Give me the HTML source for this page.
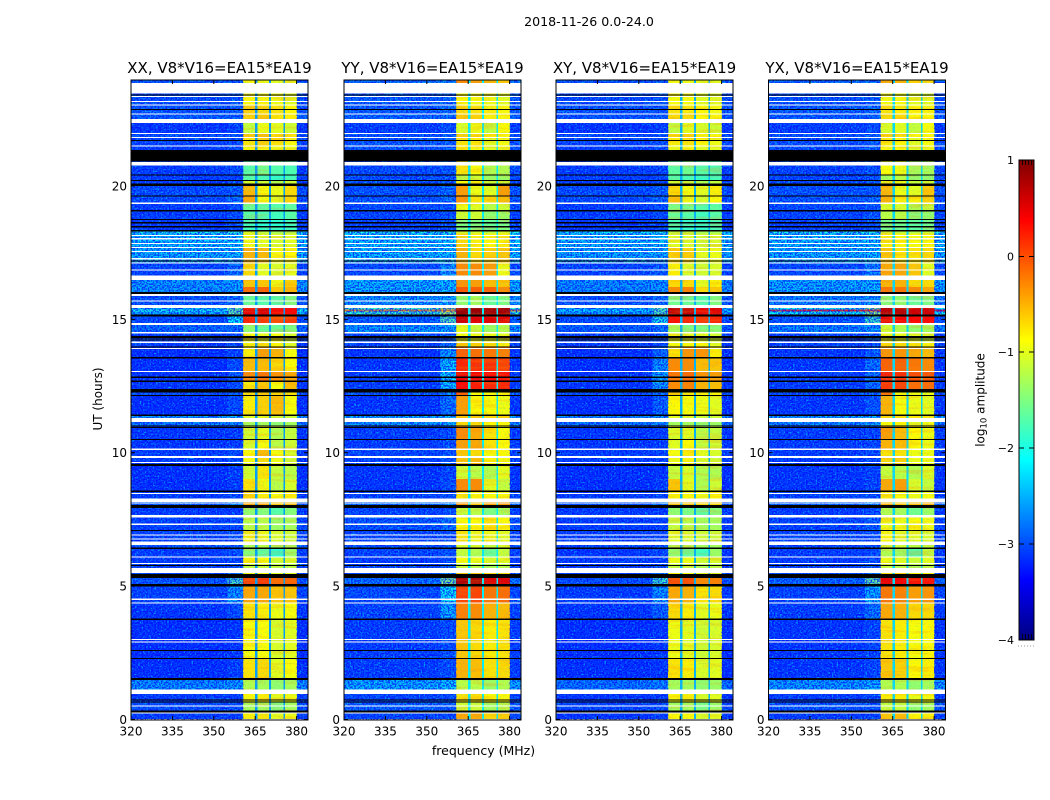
<!DOCTYPE html>
<html>
<head>
<meta charset="utf-8">
<title>2018-11-26 0.0-24.0</title>
<style>
html,body{margin:0;padding:0;background:#fff;width:1050px;height:800px;overflow:hidden}
svg{display:block}
text{font-family:"DejaVu Sans","Liberation Sans",sans-serif;fill:#000}
</style>
</head>
<body>
<svg id="chart" width="1050" height="800" viewBox="0 0 1050 800" xmlns="http://www.w3.org/2000/svg">
<defs>
<filter id="speckle-light" x="0" y="0" width="1" height="1" color-interpolation-filters="sRGB">
<feTurbulence type="fractalNoise" baseFrequency="0.62" numOctaves="1" seed="4"/>
<feColorMatrix type="matrix" values="0 0 0 0 0  0 0 0 0 0.72  0 0 0 0 1  4 0 0 0 -2"/>
</filter>
<filter id="speckle-dark" x="0" y="0" width="1" height="1" color-interpolation-filters="sRGB">
<feTurbulence type="fractalNoise" baseFrequency="0.62" numOctaves="1" seed="11"/>
<feColorMatrix type="matrix" values="0 0 0 0 0  0 0 0 0 0  0 0 0 0 1  4.5 0 0 0 -1.8"/>
</filter>
<filter id="stripe-warm" x="0" y="0" width="1" height="1" color-interpolation-filters="sRGB">
<feTurbulence type="fractalNoise" baseFrequency="0.03 0.3" numOctaves="2" seed="7"/>
<feColorMatrix type="matrix" values="0 0 0 0 1  0 0 0 0 0.55  0 0 0 0 0  5 0 0 0 -2.5"/>
</filter>
</defs>
<text x="589" y="26" font-size="12.6" text-anchor="middle">2018-11-26 0.0-24.0</text>
<text transform="translate(102 399) rotate(-90)" font-size="12" text-anchor="middle">UT (hours)</text>
<text x="483.5" y="755" font-size="12.5" text-anchor="middle">frequency (MHz)</text>
<text transform="translate(984.5 400) rotate(-90)" font-size="12" text-anchor="middle">log<tspan font-size="8.5" dy="2">10</tspan><tspan dy="-2"> amplitude</tspan></text>
<g id="panels"></g>
<g id="colorbar"></g>
</svg>
<script>
// ---- data ----
const panelTitles = ["XX, V8*V16=EA15*EA19","YY, V8*V16=EA15*EA19","XY, V8*V16=EA15*EA19","YX, V8*V16=EA15*EA19"];
const freqTicks = [320,335,350,365,380];
const hourTicks = [0,5,10,15,20];
const colorbarTicks = [1,0,-1,-2,-3,-4];
// lower edge (hours) of every time block, last entry is the top edge of the data
const rowEdges = [0,0.3,0.62,1.11,1.48,2.27,3.74,4.35,5.06,5.43,5.66,5.83,6.07,6.4,6.65,7.07,7.65,8.02,8.27,8.56,9,9.55,9.86,10.11,10.48,10.96,11.29,11.41,12.13,12.36,12.66,13.03,13.54,13.95,14.12,14.5,14.85,15.17,15.28,15.34,15.52,16,16.2,16.62,17.1,17.68,18.2,18.3,18.75,19.05,19.33,19.6,19.98,20.18,20.39,21.33,21.48,21.8,21.95,22.48,22.67,23,23.45,23.95];
// frequency block edges (MHz): continuum, shoulder, sub-band, gap, sub-band, gap, sub-band, gap, sub-band, upper continuum
const freqEdges = [320,355,360.6,364.9,365.8,370,370.7,375.2,375.8,380.1,384.13];
// log10 amplitude per time block: [continuum, shoulder, band1, band2, band3, band4]
const levelsXX = [
[-3,-3,-.8,-.75,-1,-.95],[-2.9,-2.9,-1.3,-1.3,-1.5,-1.3],[-3,-3,-.85,-.8,-1,-.95],[-2.55,-2.5,-1.25,-1.3,-1.4,-1.3],[-3.1,-3,-.75,-.7,-1,-.9],[-3.1,-3.05,-.9,-.9,-1.05,-1],[-3.05,-2.9,-.75,-.8,-.95,-.9],[-2.95,-2.5,-.45,-.45,-.6,-.6],[-2.85,-1.75,.05,.1,-.15,-.1],[-2.9,-2.6,-.9,-.9,-1,-1],[-2.95,-2.9,-1.15,-1.1,-1.2,-1.2],[-3,-2.95,-.85,-.9,-1.1,-1.05],[-3,-2.9,-1.45,-1.65,-1.9,-1.35],[-2.85,-2.8,-1.25,-1.2,-1.3,-1.3],[-2.95,-2.9,-.95,-.95,-1.05,-1.1],[-2.95,-2.9,-1.2,-1.2,-1.35,-1.3],[-3,-3,-1.4,-1.45,-1.7,-1.45],[-2.8,-2.5,-.45,-.45,-.6,-.55],[-3,-2.9,-.65,-.8,-.9,-.8],[-3.1,-3,-.75,-.95,-1.2,-1.05],[-3.1,-3,-1.1,-.75,-1.15,-1.2],[-3,-2.9,-.9,-.7,-.95,-1.1],[-3,-2.9,-.85,-.55,-.9,-1.05],[-3.05,-3,-1.05,-.9,-1.2,-1.1],[-3.05,-3,-1.1,-1,-1.25,-1.15],[-2.65,-2.6,-1.3,-1.3,-1.4,-1.3],[-2.5,-2.4,-1,-1,-1.1,-1.1],[-3.1,-2.9,-.8,-.65,-.55,-.9],[-2.9,-2.8,-.7,-.6,-.7,-.8],[-3.05,-2.9,-.8,-.6,-.9,-.55],[-3.05,-2.85,-.3,-.2,-.35,-.45],[-3.1,-2.9,-.55,-.55,-.7,-.85],[-3.1,-2.95,-.8,-.4,-.5,-.9],[-3,-2.9,-.9,-.8,-.85,-1],[-3,-2.9,-.9,-.95,-.9,-1.05],[-2.75,-2.7,-1.4,-1.6,-1.6,-1.5],[-2.9,-2.1,.2,.1,0,.1],[-2.4,-1.6,.45,.5,.3,.35],[-2,-1.6,.5,.55,.35,.35],[-2.4,-1.6,.45,.5,.3,.35],[-2.85,-2.7,-1.6,-1.7,-1.7,-1.5],[-2.5,-2.45,-.15,-.1,-.6,-.5],[-2.5,-2.45,-.6,-.6,-.95,-.65],[-2.95,-2.75,-.7,-1,-1.05,-1],[-2.35,-2.3,-.5,-.55,-.9,-.85],[-2.3,-2.25,-.95,-1,-1.05,-1],[-2,-1.9,-1.1,-1.2,-1.3,-1.3],[-3,-2.9,-1.8,-1.9,-1.9,-1.8],[-3,-2.9,-1.7,-1.75,-1.8,-1.7],[-3,-2.9,-1.6,-1.65,-1.7,-1.65],[-2.9,-2.7,-.45,-.9,-1,-.75],[-2.9,-2.8,-.55,-.85,-.95,-.7],[-3,-2.9,-1.05,-1.1,-1.25,-1.1],[-3,-2.95,-1.7,-1.75,-1.9,-1.8],[-3,-2.9,-1.7,-1.55,-1.7,-1.75],[-3,-2.9,-.85,-.85,-.95,-.95],[-2.95,-2.9,-.75,-.65,-.75,-.9],[-2.9,-2.8,-.6,-.55,-.7,-.8],[-3.05,-2.95,-1.15,-.95,-1,-1.1],[-2.8,-2.8,-.65,-.6,-.8,-.8],[-2.85,-2.8,-.65,-.7,-.75,-.85],[-2.9,-2.85,-.85,-.85,-.95,-1],[-2.85,-2.8,-.9,-.95,-1,-1]];
const levelsYY = [
[-2.95,-2.9,-.45,-.45,-.7,-.65],[-2.8,-2.8,-1.1,-1.1,-1.3,-1.25],[-2.95,-2.9,-.75,-.75,-.85,-.85],[-2.4,-2.3,-1.2,-1.2,-1.35,-1.25],[-3,-2.9,-.5,-.55,-.75,-.7],[-3,-2.9,-.6,-.7,-.8,-.75],[-2.95,-2.4,-.25,-.3,-.5,-.55],[-2.9,-2.1,.05,.05,-.2,-.15],[-2.7,-1.5,.75,.75,.5,.5],[-2.9,-2.5,-.6,-.6,-.7,-.7],[-2.95,-2.8,-1.15,-1.2,-1.3,-1.2],[-3,-2.9,-.9,-.95,-1.05,-1],[-2.95,-2.85,-1.15,-1.25,-1.6,-1.15],[-2.9,-2.8,-1.05,-1.05,-1.15,-1.05],[-2.95,-2.9,-.75,-.95,-.95,-1],[-2.85,-2.7,-.85,-.85,-.75,-.85],[-2.95,-2.9,-1.15,-1.2,-1.5,-1.3],[-2.7,-2.5,-.4,-.6,-.45,-.4],[-2.95,-2.9,-.75,-.85,-.9,-.85],[-3.05,-2.9,-.3,-.3,-1,-1.15],[-3.05,-2.95,-1.1,-1.2,-1.25,-1],[-2.95,-2.85,-.6,-.55,-.85,-.9],[-2.95,-2.9,-.6,-.7,-.9,-.85],[-3,-2.9,-.4,-.45,-.75,-.85],[-3,-2.9,-.3,-.45,-.75,-.9],[-2.5,-2.4,-.7,-.7,-.85,-.85],[-2.4,-2.3,-.6,-.6,-.7,-.7],[-3.05,-2.7,-.4,-.85,-.9,-.95],[-2.8,-2.5,-.1,-.9,-.9,-.9],[-3,-2.3,.35,.25,.2,.2],[-3,-2.2,.45,.4,.35,.3],[-3.05,-2.3,.2,.15,.15,.05],[-3.05,-2.5,-.1,-.15,-.2,-.25],[-2.95,-2.7,-.6,-.65,-.7,-.8],[-2.9,-2.8,-.9,-.9,-.95,-1],[-2.5,-2.4,-1,-1.15,-1.35,-1.25],[-2.8,-1.7,.6,.5,.5,.5],[-1.9,-1.3,.85,.85,.8,.8],[-.3,-.3,.85,.85,.8,.8],[-1.9,-1.3,.85,.85,.8,.8],[-2.5,-2.4,-1.4,-1.3,-1.6,-1.5],[-2.35,-2.3,-.05,-.05,-.1,-.3],[-2.35,-2.3,-.35,-.4,-.55,-.6],[-2.9,-2.5,-.3,-.3,-.4,-.95],[-2.3,-2.25,-.5,-.7,-.65,-.6],[-2.25,-2.2,-.7,-.8,-.85,-.8],[-2,-1.9,-1.1,-1.1,-1.2,-1.1],[-2.95,-2.85,-1.5,-1.5,-1.6,-1.5],[-2.95,-2.85,-1.1,-1.1,-1.4,-1.35],[-2.9,-2.85,-.95,-1,-1.2,-1.1],[-2.85,-2.7,-.35,-.75,-.7,-.55],[-2.85,-2.75,-.4,-.95,-1,-.4],[-2.85,-2.8,-.85,-.85,-1.1,-1.1],[-2.9,-2.85,-1.2,-1.1,-1.35,-1.35],[-2.9,-2.85,-.75,-.9,-1.25,-1.25],[-2.85,-2.8,-.8,-.85,-1,-.95],[-2.85,-2.8,-.75,-.8,-1,-.9],[-2.85,-2.8,-.65,-.7,-.8,-.85],[-3,-2.9,-1.05,-.95,-1.15,-.85],[-2.75,-2.7,-.6,-.65,-.8,-.85],[-2.8,-2.7,-.7,-.75,-.8,-.85],[-2.8,-2.75,-.85,-.9,-.95,-1],[-2.7,-2.65,-.3,-.4,-.5,-.6]];
const levelsXY = [
[-3.05,-3,-.85,-.85,-1.05,-1],[-2.95,-2.9,-1.3,-1.3,-1.5,-1.35],[-3.05,-3,-.9,-.9,-1.05,-1],[-2.7,-2.6,-1.3,-1.3,-1.4,-1.35],[-3.1,-3.05,-.75,-.8,-1.05,-1],[-3.1,-3.05,-.95,-1,-1.1,-1.05],[-3.05,-2.8,-.7,-.8,-1,-.95],[-3,-2.5,-.45,-.5,-.75,-.7],[-2.9,-1.8,0,0,-.3,-.25],[-2.95,-2.7,-.9,-.9,-1.05,-1.05],[-3,-2.9,-1.15,-1.15,-1.25,-1.2],[-3,-2.95,-.95,-.95,-1.1,-1.05],[-3.05,-2.95,-1.4,-1.6,-1.8,-1.35],[-2.95,-2.9,-1.25,-1.25,-1.3,-1.3],[-3,-2.95,-1,-1.05,-1.1,-1.1],[-3,-2.95,-1.15,-1.2,-1.3,-1.3],[-3,-3,-1.4,-1.5,-1.65,-1.45],[-2.85,-2.6,-.55,-.6,-.7,-.65],[-3,-2.95,-.8,-.85,-.95,-.85],[-3.1,-3,-.6,-1,-1.25,-1.1],[-3.1,-3.05,-1.15,-1.05,-1.25,-1.25],[-3,-2.95,-.95,-.85,-1.05,-1.1],[-3,-2.95,-.9,-.8,-1,-1.05],[-3.05,-3,-1,-.85,-1.15,-1.1],[-3.05,-3,-1.05,-1,-1.2,-1.15],[-2.7,-2.6,-1.3,-1.3,-1.4,-1.35],[-2.6,-2.5,-1,-1,-1.1,-1.1],[-3.1,-2.8,-.85,-.9,-.95,-1],[-2.9,-2.7,-.6,-.75,-.8,-.85],[-3.05,-2.5,-.3,-.25,-.5,-.55],[-3.05,-2.4,-.2,-.15,-.35,-.4],[-3.1,-2.55,-.3,-.3,-.55,-.6],[-3.1,-2.75,-.75,-.35,-.35,-.8],[-3,-2.85,-.9,-.85,-.85,-1],[-3,-2.9,-.95,-1,-1,-1.05],[-2.8,-2.7,-1.3,-1.5,-1.5,-1.45],[-2.9,-2,.3,.2,.1,.2],[-2.5,-1.7,.65,.65,.45,.5],[-2.2,-1.7,.65,.65,.45,.5],[-2.5,-1.7,.65,.65,.45,.5],[-2.85,-2.7,-1.55,-1.6,-1.7,-1.5],[-2.55,-2.5,-.3,-.25,-.7,-.6],[-2.55,-2.5,-.7,-.7,-1,-.8],[-2.95,-2.8,-.8,-1.05,-1.1,-1.05],[-2.4,-2.35,-.65,-.7,-1,-.95],[-2.35,-2.3,-1,-1.05,-1.1,-1.05],[-2.1,-2,-1.2,-1.2,-1.3,-1.3],[-3,-2.9,-1.8,-1.85,-1.9,-1.8],[-3,-2.9,-1.6,-1.7,-1.8,-1.7],[-3,-2.9,-1.5,-1.55,-1.7,-1.65],[-2.9,-2.75,-.6,-.95,-1.05,-.85],[-2.9,-2.8,-.7,-.9,-1,-.8],[-3,-2.9,-1.1,-1.15,-1.25,-1.15],[-3,-2.95,-1.7,-1.75,-1.85,-1.8],[-3,-2.95,-1.65,-1.55,-1.7,-1.75],[-3,-2.9,-.95,-.9,-1,-1],[-2.95,-2.9,-.8,-.75,-.85,-.95],[-2.9,-2.85,-.7,-.65,-.8,-.85],[-3.05,-3,-1.15,-1,-1.05,-1.1],[-2.85,-2.8,-.7,-.7,-.85,-.85],[-2.85,-2.85,-.75,-.8,-.85,-.9],[-2.9,-2.85,-.9,-.9,-1,-1],[-2.85,-2.85,-.9,-.95,-1,-1]];
const levelsYX = [
[-3,-2.95,-.6,-.55,-.85,-.8],[-2.85,-2.85,-1.15,-1.15,-1.4,-1.3],[-3,-2.95,-.8,-.8,-.95,-.9],[-2.5,-2.4,-1.25,-1.25,-1.4,-1.3],[-3.05,-2.95,-.6,-.65,-.85,-.8],[-3.05,-2.95,-.75,-.8,-.9,-.85],[-3,-2.7,-.45,-.5,-.7,-.7],[-2.95,-2.4,-.2,-.25,-.4,-.35],[-2.75,-1.6,.45,.4,.3,.3],[-2.9,-2.6,-.7,-.7,-.8,-.8],[-2.95,-2.85,-1.15,-1.2,-1.3,-1.2],[-3,-2.9,-.95,-1,-1.1,-1],[-3,-2.9,-1.25,-1.35,-1.7,-1.2],[-2.95,-2.85,-1.1,-1.1,-1.2,-1.15],[-2.95,-2.9,-.85,-1,-1,-1.05],[-2.95,-2.8,-.95,-.95,-.9,-.95],[-3,-2.9,-1.25,-1.3,-1.55,-1.35],[-2.75,-2.55,-.5,-.65,-.55,-.5],[-2.95,-2.9,-.8,-.9,-.95,-.9],[-3.05,-2.95,-.45,-.4,-1.05,-1.15],[-3.05,-2.95,-1.15,-1.2,-1.25,-1.05],[-3,-2.9,-.7,-.65,-.95,-.95],[-3,-2.9,-.75,-.75,-.95,-.95],[-3,-2.95,-.5,-.55,-.85,-.95],[-3,-2.95,-.4,-.55,-.85,-.95],[-2.6,-2.5,-.85,-.85,-1,-.95],[-2.45,-2.35,-.7,-.7,-.8,-.8],[-3.05,-2.85,-.5,-.9,-.95,-1],[-2.85,-2.75,-.2,-.9,-.95,-.95],[-3,-2.75,.1,.05,-.15,-.15],[-3,-2.7,.2,.15,0,-.05],[-3.05,-2.7,-.1,-.1,-.2,-.3],[-3.05,-2.8,-.35,-.35,-.45,-.55],[-2.95,-2.85,-.7,-.7,-.75,-.85],[-2.95,-2.85,-.95,-.95,-1,-1.05],[-2.6,-2.5,-1.1,-1.25,-1.4,-1.3],[-2.85,-1.8,.45,.4,.35,.35],[-2.1,-1.4,.7,.7,.6,.6],[.25,.1,.7,.7,.6,.6],[-2.1,-1.4,.7,.7,.6,.6],[-2.6,-2.5,-1.45,-1.4,-1.6,-1.5],[-2.4,-2.35,-.2,-.2,-.3,-.45],[-2.4,-2.35,-.5,-.5,-.7,-.7],[-2.9,-2.6,-.45,-.45,-.6,-1],[-2.35,-2.3,-.6,-.75,-.75,-.7],[-2.3,-2.25,-.8,-.85,-.9,-.85],[-2,-1.95,-1.15,-1.15,-1.25,-1.15],[-2.95,-2.85,-1.55,-1.55,-1.65,-1.55],[-2.95,-2.85,-1.2,-1.2,-1.45,-1.4],[-2.9,-2.85,-1.05,-1.05,-1.25,-1.15],[-2.85,-2.75,-.5,-.8,-.8,-.65],[-2.85,-2.8,-.55,-.95,-1,-.6],[-2.9,-2.8,-.95,-.95,-1.15,-1.1],[-2.95,-2.85,-1.3,-1.2,-1.4,-1.4],[-2.95,-2.85,-.9,-.95,-1.3,-1.3],[-2.9,-2.8,-.85,-.9,-1,-.95],[-2.9,-2.8,-.8,-.85,-1,-.9],[-2.85,-2.8,-.7,-.75,-.85,-.85],[-3,-2.9,-1.05,-1,-1.15,-.9],[-2.8,-2.75,-.7,-.7,-.85,-.85],[-2.8,-2.75,-.75,-.8,-.85,-.85],[-2.85,-2.8,-.9,-.9,-1,-1],[-2.75,-2.7,-.45,-.5,-.65,-.7]];
const panelLevels = [levelsXX, levelsYY, levelsXY, levelsYX];
const gapLevels = [-2.6,-2.2,-2.5,-2.3];
// flagged time ranges (hours)
const whiteFlags = [[23.45,23.83],[23.31,23.35],[23.12,23.16],[22.99,23.03],[22.65,22.69],[22.33,22.48],[21.93,21.97],[21.78,21.82],[21.46,21.5],[20.75,20.88],[19.31,19.35],[18.1,18.15],[17.98,18.03],[17.81,17.85],[17.66,17.7],[17.5,17.54],[17.23,17.27],[17.07,17.11],[16.81,16.85],[16.45,16.62],[15.85,15.93],[15.64,15.68],[15.4,15.52],[14.77,14.85],[14.44,14.5],[14.1,14.14],[13.87,13.91],[13.01,13.05],[11.13,11.29],[10.09,10.13],[9.79,9.86],[9.59,9.63],[8.43,8.48],[8.14,8.27],[8.08,8.12],[7.55,7.65],[7.28,7.32],[6.87,6.91],[6.72,6.76],[6.53,6.65],[6.05,6.09],[5.81,5.85],[5.48,5.66],[4.46,4.52],[4.33,4.37],[2.96,3],[2.87,2.91],[.94,1.11],[.47,.51],[.2,.24]];
const blackFlags = [[23.37,23.41],[22.83,22.87],[21.66,21.7],[20.89,21.33],[20.37,20.41],[20.16,20.2],[19.98,20.08],[19.58,19.62],[19.03,19.07],[18.7,18.75],[18.58,18.62],[18.43,18.47],[18.28,18.32],[17.15,17.19],[15.93,16],[15.08,15.17],[14.27,14.36],[14.18,14.22],[13.93,13.97],[13.52,13.56],[12.79,12.83],[12.64,12.68],[12.23,12.36],[12.11,12.15],[11.36,11.41],[10.96,11],[10.91,10.94],[10.46,10.5],[9.49,9.55],[8.51,8.56],[7.9,8.02],[7.05,7.09],[6.38,6.42],[5.73,5.77],[5.28,5.43],[4.96,5.06],[3.72,3.76],[2.55,2.59],[2.25,2.29],[1.46,1.53],[.69,.73],[.62,.66],[.24,.31]];

// ---- layout ----
const panelLefts = [131,344,556,768.5];
const plotTop = 80, plotBottom = 720, plotWidth = 177;
const cbLeft = 1019, cbRight = 1034, cbTop = 160, cbBottom = 640;
const svgNS = "http://www.w3.org/2000/svg";
const panelsGroup = document.getElementById("panels");
const cbGroup = document.getElementById("colorbar");
const yOf = h => 719 - h * 26.68;
const xOf = (left, f) => left + (f - 320) * 2.76;
const cbY = v => cbTop + (1 - v) * (cbBottom - cbTop) / 5;
// columns of each frequency block: index into a level row, or -1 for the band gap
const blockSource = [0,1,2,-1,3,-1,4,-1,5,0];

function jet(t){
  t = Math.max(0, Math.min(1, t));
  const ch = (a) => Math.round(255 * Math.max(0, Math.min(1, 1.5 - Math.abs(4 * t - a))));
  return "rgb(" + ch(3) + "," + ch(2) + "," + ch(1) + ")";
}
const colorOf = v => jet((v + 4) / 5);
function make(tag, attrs, parent){
  const e = document.createElementNS(svgNS, tag);
  for (const k in attrs) e.setAttribute(k, attrs[k]);
  parent.appendChild(e);
  return e;
}

panelTitles.forEach((title, p) => {
  const left = panelLefts[p];
  const g = make("g", {}, panelsGroup);
  
  

  const heat = make("g", {"shape-rendering": "crispEdges"}, g);
  
  
  panelLevels[p].forEach((row, r) => {
    const y1 = yOf(rowEdges[r + 1]), y2 = yOf(rowEdges[r]);
    blockSource.forEach((src, c) => {
      const v = src < 0 ? gapLevels[p] : row[src];
      const x1 = xOf(left, freqEdges[c]), x2 = xOf(left, freqEdges[c + 1]);
      const cell = make("rect", {x: x1, y: y1, width: x2 - x1, height: y2 - y1, fill: colorOf(v)}, heat);
      
      
    });
  });

  // receiver-noise grain over the continuum; the bands only get a faint light grain
  const bandLeft = xOf(left, 360.6), bandRight = xOf(left, 380.1);
  [[left, bandLeft - left, .85, .7], [bandLeft, bandRight - bandLeft, .18, 0], [bandRight, left + plotWidth - bandRight, .85, .7]].forEach(z => {
    const a = make("rect", {x: z[0], y: plotTop, width: z[1], height: plotBottom - plotTop, filter: "url(#speckle-light)", opacity: z[2]}, g);
    
    
    if (z[3] > 0) {
      const d = make("rect", {x: z[0], y: plotTop, width: z[1], height: plotBottom - plotTop, filter: "url(#speckle-dark)", opacity: z[3]}, g);
      
      
    }
  });
  const warm = make("rect", {x: bandLeft, y: plotTop, width: bandRight - bandLeft, height: plotBottom - plotTop, filter: "url(#stripe-warm)", opacity: .22}, g);
  
  

  const flags = make("g", {"shape-rendering": "crispEdges"}, g);
  
  
  whiteFlags.forEach(f => {
    const b = make("rect", {x: left, y: yOf(f[1]), width: plotWidth, height: (f[1] - f[0]) * 26.68, fill: "#fff"}, flags);
    
    
  });
  blackFlags.forEach(f => {
    const b = make("rect", {x: left, y: yOf(f[1]), width: plotWidth, height: (f[1] - f[0]) * 26.68, fill: "#000"}, flags);
    
    
  });

  const frame = make("rect", {x: left, y: plotTop, width: plotWidth, height: plotBottom - plotTop, fill: "none", stroke: "#000", "stroke-width": 1}, g);
  
  

  const t = make("text", {x: left + plotWidth / 2, y: 73, "font-size": 15, "text-anchor": "middle"}, g);
  t.textContent = title;
  
  

  freqTicks.forEach(f => {
    const x = xOf(left, f);
    const a = make("line", {x1: x, x2: x, y1: plotBottom, y2: plotBottom - 4, stroke: "#000"}, g);
    
    
    const b = make("line", {x1: x, x2: x, y1: plotTop, y2: plotTop + 4, stroke: "#000"}, g);
    
    
    const l = make("text", {x: x, y: 735.7, "font-size": 12, "text-anchor": "middle"}, g);
    l.textContent = f;
    
    
  });
  hourTicks.forEach(h => {
    const y = yOf(h) + .5;
    const a = make("line", {x1: left, x2: left + 4, y1: y, y2: y, stroke: "#000"}, g);
    
    
    const b = make("line", {x1: left + plotWidth, x2: left + plotWidth - 4, y1: y, y2: y, stroke: "#000"}, g);
    
    
    const l = make("text", {x: left - 4, y: y + 4.5, "font-size": 12, "text-anchor": "end"}, g);
    l.textContent = h;
    
    
  });
});

// colour bar
for (let i = 0; i < 240; i++) {
  const v = 1 - i * 5 / 240;
  const s = make("rect", {x: cbLeft, y: cbY(v), width: cbRight - cbLeft, height: 2.6, fill: colorOf(v - 5 / 480), "shape-rendering": "crispEdges"}, cbGroup);
  
  
}
const cbFrame = make("rect", {x: cbLeft, y: cbTop, width: cbRight - cbLeft, height: cbBottom - cbTop, fill: "none", stroke: "#000"}, cbGroup);


colorbarTicks.forEach(v => {
  const y = cbY(v) + (v === 0 ? .5 : 0);
  const a = make("line", {x1: cbLeft, x2: cbLeft + 5, y1: y, y2: y, stroke: "#000"}, cbGroup);
  
  
  const b = make("line", {x1: cbRight, x2: cbRight - 5, y1: y, y2: y, stroke: "#000"}, cbGroup);
  
  
  const l = make("text", {x: 1014, y: y + 4, "font-size": 11, "text-anchor": "end"}, cbGroup);
  l.textContent = v < 0 ? "\u2212" + Math.abs(v) : String(v);
  
  
});
[3.5, 6.5, 9.5, 12.5].forEach(dx => {
  const a = make("line", {x1: cbLeft + dx, x2: cbLeft + dx, y1: cbTop, y2: cbTop + 5, stroke: "#000", "stroke-width": .8}, cbGroup);
  
  
  const b = make("line", {x1: cbLeft + dx, x2: cbLeft + dx, y1: cbBottom, y2: cbBottom - 6, stroke: "#000", "stroke-width": .8}, cbGroup);
  
  
});
[0, 3, 6, 9, 12, 15].forEach(dx => {
  const d = make("rect", {x: cbLeft - 1 + dx, y: 645.5, width: 1, height: 1, fill: "#999"}, cbGroup);
  
  
});
</script>
</body>
</html>
